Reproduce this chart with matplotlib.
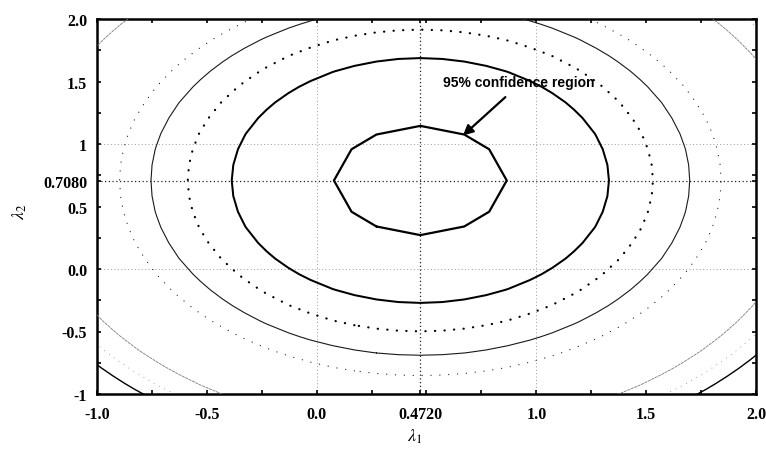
import numpy as np
import matplotlib
matplotlib.use("Agg")
import matplotlib.pyplot as plt
from matplotlib.ticker import FixedLocator, MultipleLocator

# Estimated parameters (lambda_1, lambda_2) and the shape of the quadratic surface
lambda1_hat = 0.4720
lambda2_hat = 0.7080
axis_ratio = 1.14          # vertical / horizontal stretch of the contours

# Contour levels given as normalised radii, innermost first
level_radii = [0.395, 0.86, 1.06, 1.227, 1.37, 1.75, 1.87, 1.96]
level_colors = ["black", "black", "black", "#1a1a1a", "#222222", "#7a7a7a", "#8a8a8a", "black"]
level_widths = [1.6, 1.45, 1.6, 0.8, 0.9, 0.6, 0.7, 1.0]
level_styles = ["solid", "solid", (0, (0.1, 4.2)), "solid", (0, (0.1, 7.0)),
                (0, (3.0, 1.5)), (0, (0.1, 6.0)), "solid"]
# evaluation grid step (lambda_1, lambda_2) used for each level
level_steps = [(0.2, 0.25)] + [(0.1, 0.125)] * 7

x_ticks = [-1.0, -0.5, 0.0, 0.4720, 1.0, 1.5, 2.0]
x_tick_labels = ["-1.0", "-0.5", "0.0", "0.4720", "1.0", "1.5", "2.0"]
y_ticks = [-1.0, -0.5, 0.0, 0.5, 0.7080, 1.0, 1.5, 2.0]
y_tick_labels = ["-1", "-0.5", "0.0", "0.5", "0.7080", "1", "1.5", "2.0"]
grid_x = [0.0, 1.0]
grid_y = [0.0, 1.0]

annotation_text = "95% confidence region"

plt.rcParams["mathtext.fontset"] = "stix"

fig = plt.figure(figsize=(7.66, 4.52), dpi=100)
ax = fig.add_axes([97 / 766, 1 - 395 / 452, 659 / 766, 375 / 452])


def surface(step_x, step_y):
    nx = int(round(1.8 / step_x))
    ny = int(round(1.8 / step_y))
    gx = lambda1_hat + step_x * np.arange(-nx, nx + 1)
    gy = lambda2_hat + step_y * np.arange(-ny, ny + 1)
    X, Y = np.meshgrid(gx, gy)
    Z = (X - lambda1_hat) ** 2 + ((Y - lambda2_hat) / axis_ratio) ** 2
    return X, Y, Z


for r, c, w, s, st in zip(level_radii, level_colors, level_widths, level_styles, level_steps):
    X, Y, Z = surface(*st)
    cs = ax.contour(X, Y, Z, levels=[r ** 2], colors=[c], linewidths=[w], zorder=3)
    for coll in ([cs] if not hasattr(cs, "collections") else cs.collections):
        coll.set_linestyle(s)
        try:
            coll.set_capstyle("round")
        except Exception:
            pass

# Light reference grid and the lines through the estimate
for gxv in grid_x:
    ax.axvline(gxv, color="#9a9a9a", lw=0.7, ls=(0, (1, 2.5)), zorder=1)
for gyv in grid_y:
    ax.axhline(gyv, color="#9a9a9a", lw=0.7, ls=(0, (1, 2.5)), zorder=1)
ax.axvline(lambda1_hat, color="#222222", lw=0.9, ls=(0, (1, 2)), zorder=2)
ax.axhline(lambda2_hat, color="#222222", lw=0.9, ls=(0, (1, 2)), zorder=2)

ax.set_xlim(-1.0, 2.0)
ax.set_ylim(-1.0, 2.0)

ax.xaxis.set_major_locator(FixedLocator(x_ticks))
ax.yaxis.set_major_locator(FixedLocator(y_ticks))
ax.set_xticklabels(x_tick_labels)
ax.set_yticklabels(y_tick_labels)
ax.xaxis.set_minor_locator(MultipleLocator(0.25))
ax.yaxis.set_minor_locator(MultipleLocator(0.25))
ax.tick_params(which="both", direction="in", length=3, width=1.2,
               top=True, right=True, color="black")
ax.tick_params(axis="x", which="major", pad=9)
ax.tick_params(axis="y", which="major", pad=7)
for lab in ax.get_xticklabels() + ax.get_yticklabels():
    lab.set_fontfamily("Liberation Serif")
    lab.set_fontweight("bold")
    lab.set_fontsize(11.5)

for sp in ax.spines.values():
    sp.set_linewidth(1.8)
    sp.set_color("black")

# Annotation pointing at the innermost region
ax.text(0.575, 1.494, annotation_text, fontsize=10, fontweight="bold",
        family="Liberation Sans", va="center", ha="left", zorder=5)
ax.annotate("", xy=(0.666, 1.068), xytext=(0.859, 1.375),
            arrowprops=dict(arrowstyle="-|>,head_length=0.6,head_width=0.3",
                            color="black", lw=1.6, shrinkA=0, shrinkB=0),
            zorder=5)

fig.text(415 / 766, 1 - 437 / 452, r"$\lambda_1$", fontsize=13,
         ha="center", va="center")
fig.text(20 / 766, 1 - 212 / 452, r"$\lambda_2$", fontsize=13,
         ha="center", va="center", rotation=90)

fig.savefig("out.png", dpi=100)
